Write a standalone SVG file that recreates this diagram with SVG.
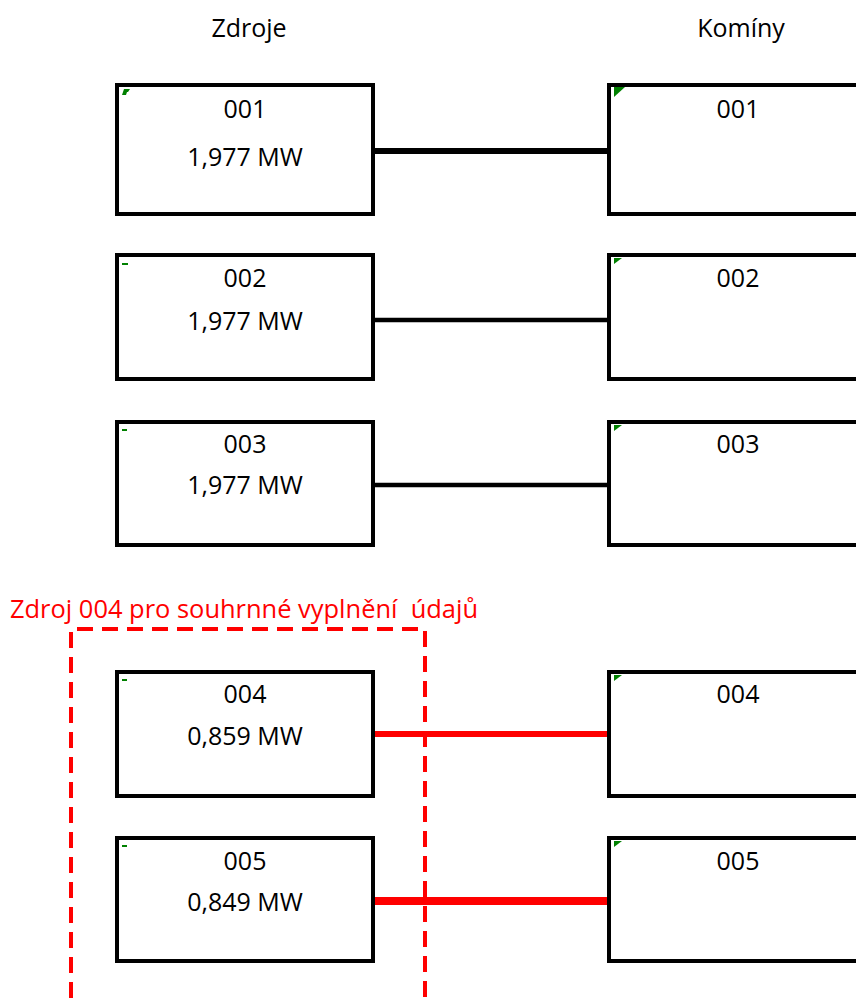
<svg xmlns="http://www.w3.org/2000/svg" width="856" height="998" viewBox="0 0 856 998">
<style>
.box{fill:#fff;stroke:#000;stroke-width:4}
.t{font-family:"Open Sans","Liberation Sans",sans-serif;font-size:25px;fill:#000;text-anchor:middle}
.g{fill:#008000}
.red{stroke:#ff0000;fill:none}
</style>
<rect width="856" height="998" fill="#fff"/>
<text class="t" x="249" y="37">Zdroje</text>
<text class="t" x="741" y="37">Komíny</text>
<g id="connectors">
<line x1="373" y1="151" x2="609" y2="151" stroke="#000" stroke-width="6"/>
<line x1="373" y1="320" x2="609" y2="320" stroke="#000" stroke-width="4.5"/>
<line x1="373" y1="485" x2="609" y2="485" stroke="#000" stroke-width="4.5"/>
<line x1="373" y1="734" x2="609" y2="734" stroke="#ff0000" stroke-width="6"/>
<line x1="373" y1="901" x2="609" y2="901" stroke="#ff0000" stroke-width="8"/>
</g>
<g id="src001"><rect class="box" x="117" y="85" width="256" height="129"/><path class="g" d="M124,89h6l-2,3h-1l-1,3h-4z"/><text class="t" x="245" y="118">001</text><text class="t" x="245" y="166">1,977 MW</text></g>
<g id="src002"><rect class="box" x="117" y="255" width="256" height="124"/><rect class="g" x="122" y="263" width="6" height="2"/><text class="t" x="245" y="287">002</text><text class="t" x="245" y="330">1,977 MW</text></g>
<g id="src003"><rect class="box" x="117" y="422" width="256" height="123"/><rect class="g" x="122" y="429" width="5" height="2"/><text class="t" x="245" y="453">003</text><text class="t" x="245" y="494">1,977 MW</text></g>
<g id="src004"><rect class="box" x="117" y="672" width="256" height="124"/><rect class="g" x="122" y="679" width="5" height="2"/><text class="t" x="245" y="703">004</text><text class="t" x="245" y="745">0,859 MW</text></g>
<g id="src005"><rect class="box" x="117" y="838" width="256" height="123"/><rect class="g" x="122" y="845" width="5" height="2"/><text class="t" x="245" y="870">005</text><text class="t" x="245" y="911">0,849 MW</text></g>
<g id="kom001"><rect class="box" x="609" y="85" width="280" height="129"/><path class="g" d="M614,87h11l-11,10z"/><text class="t" x="738" y="118">001</text></g>
<g id="kom002"><rect class="box" x="609" y="255" width="280" height="124"/><path class="g" d="M614,258h8l-8,6z"/><text class="t" x="738" y="287">002</text></g>
<g id="kom003"><rect class="box" x="609" y="422" width="280" height="123"/><path class="g" d="M614,425h8l-8,6z"/><text class="t" x="738" y="453">003</text></g>
<g id="kom004"><rect class="box" x="609" y="672" width="280" height="124"/><path class="g" d="M614,675h8l-8,6z"/><text class="t" x="738" y="703">004</text></g>
<g id="kom005"><rect class="box" x="609" y="838" width="280" height="123"/><path class="g" d="M614,841h8l-8,6z"/><text class="t" x="738" y="870">005</text></g>
<g id="group004">
<path class="red" d="M71,998V629H425V998" stroke-width="4" stroke-dasharray="16 9"/>
<text x="10" y="618" font-family="Open Sans, Liberation Sans, sans-serif" font-size="25" fill="#ff0000" textLength="468" lengthAdjust="spacingAndGlyphs" xml:space="preserve">Zdroj 004 pro souhrnné vyplnění  údajů</text>
</g>
</svg>
